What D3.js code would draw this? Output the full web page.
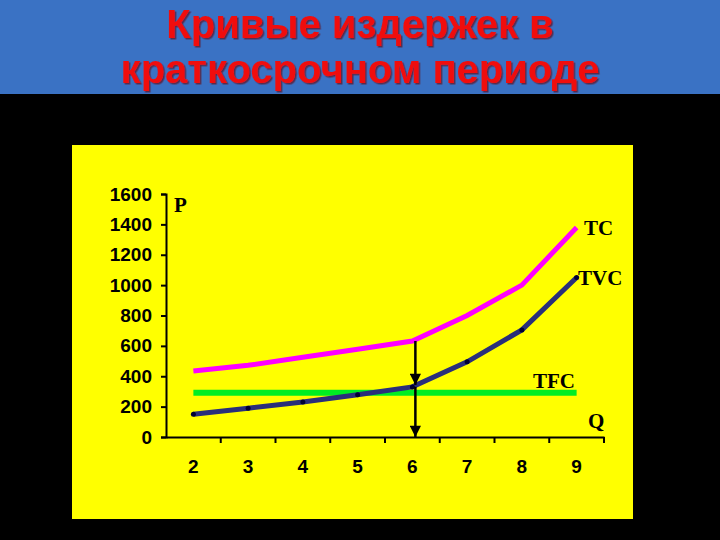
<!DOCTYPE html>
<html>
<head>
<meta charset="utf-8">
<script src="https://cdn.jsdelivr.net/npm/d3@7"></script>
<style>
  body { margin: 0; background: #000; }
  svg { display: block; }
  .tick text { font-family: "Liberation Sans", Arial, sans-serif; font-weight: bold; font-size: 19px; fill: #000; }
  .lbl { font-family: "Liberation Serif", "Times New Roman", serif; font-weight: bold; font-size: 21px; fill: #000; }
</style>
</head>
<body>
<div id="chart"></div>
<script>
// values
var quantities = ["2", "3", "4", "5", "6", "7", "8", "9"],
    tcValues  = [435, 472, 525, 578, 632, 800, 1000, 1380],
    tvcValues = [150, 190, 230, 278, 330, 495, 705, 1050],
    tfcValues = [292, 292, 292, 292, 292, 292, 292, 292],
    yTicks = [0, 200, 400, 600, 800, 1000, 1200, 1400, 1600],
    titleLines = ["Кривые издержек в", "краткосрочном периоде"];

var W = 720, H = 540;

var svg = d3.select("#chart").append("svg")
    .attr("width", W)
    .attr("height", H);

var defs = svg.append("defs");

// soft dark shadow under the title
defs.append("filter")
    .attr("id", "shadow")
    .append("feDropShadow")
    .attr("dx", 1.5).attr("dy", 1.5)
    .attr("stdDeviation", 0.6)
    .attr("flood-color", "#5a2040")
    .attr("flood-opacity", 0.9);

defs.append("marker")
    .attr("id", "arr")
    .attr("viewBox", "0 0 10 10")
    .attr("refX", 10).attr("refY", 5)
    .attr("markerWidth", 5).attr("markerHeight", 4.5)
    .attr("markerUnits", "strokeWidth")
    .attr("orient", "auto")
    .append("path")
    .attr("d", "M0,0 L10,5 L0,10 z")
    .attr("fill", "#000");

svg.append("rect").attr("width", W).attr("height", H).attr("fill", "#000");

// header
svg.append("rect")
    .attr("width", W).attr("height", 94)
    .attr("fill", "#3a72c4");

svg.selectAll(".title")
    .data(titleLines)
    .enter().append("text")
    .attr("class", "title")
    .attr("x", W / 2)
    .attr("y", function(d, i) { return 38 + i * 45; })
    .attr("text-anchor", "middle")
    .attr("filter", "url(#shadow)")
    .style("font-family", "'Liberation Sans', Arial, sans-serif")
    .style("font-weight", "bold")
    .style("font-size", "40px")
    .style("fill", "#f01010")
    .text(function(d) { return d; });

// yellow plot panel
svg.append("rect")
    .attr("x", 72).attr("y", 145)
    .attr("width", 561).attr("height", 374)
    .attr("fill", "#ffff00");

var x = d3.scaleBand().domain(quantities).range([166, 604]);
var y = d3.scaleLinear().domain([0, 1600]).range([437, 194]);

var cx = function(d, i) { return x(quantities[i]) + x.bandwidth() / 2; };

// axes
var yAxis = svg.append("g")
    .attr("transform", "translate(166,0)")
    .call(d3.axisLeft(y).tickValues(yTicks).tickFormat(d3.format("d")).tickSize(5).tickPadding(9));

var xAxis = svg.append("g")
    .attr("transform", "translate(0,437)")
    .call(d3.axisBottom(x).tickSize(0).tickPadding(23));

[yAxis, xAxis].forEach(function(a) {
    a.select(".domain").attr("stroke", "#000").attr("stroke-width", 2);
    a.selectAll(".tick line").attr("stroke", "#000").attr("stroke-width", 2);
});

// tick marks between x categories
svg.selectAll(".xtick")
    .data(quantities)
    .enter().append("line")
    .attr("x1", function(d) { return x(d) + x.bandwidth(); })
    .attr("x2", function(d) { return x(d) + x.bandwidth(); })
    .attr("y1", 437).attr("y2", 443)
    .attr("stroke", "#000").attr("stroke-width", 2);

var line = d3.line()
    .x(cx)
    .y(function(d) { return y(d); });

svg.append("path")
    .datum(tfcValues)
    .attr("d", line)
    .attr("fill", "none")
    .attr("stroke", "#00ee22")
    .attr("stroke-width", 6);

svg.append("path")
    .datum(tvcValues)
    .attr("d", line)
    .attr("fill", "none")
    .attr("stroke", "#2a2f7a")
    .attr("stroke-width", 5);

svg.selectAll(".tvcdot")
    .data(tvcValues)
    .enter().append("circle")
    .attr("cx", cx)
    .attr("cy", function(d) { return y(d); })
    .attr("r", 2.5)
    .attr("fill", "#000033");

svg.append("path")
    .datum(tcValues)
    .attr("d", line)
    .attr("fill", "none")
    .attr("stroke", "#ff00ff")
    .attr("stroke-width", 5);

// arrows at Q = 6
var ax = x("6") + x.bandwidth() / 2 + 3;
svg.append("line")
    .attr("x1", ax).attr("x2", ax)
    .attr("y1", y(tcValues[4])).attr("y2", y(tvcValues[4]) - 2)
    .attr("stroke", "#000").attr("stroke-width", 2.5)
    .attr("marker-end", "url(#arr)");
svg.append("line")
    .attr("x1", ax).attr("x2", ax)
    .attr("y1", y(tvcValues[4])).attr("y2", y(0))
    .attr("stroke", "#000").attr("stroke-width", 2.5)
    .attr("marker-end", "url(#arr)");

// curve labels
var labels = [
    { t: "P",   x: 174, y: 212 },
    { t: "TC",  x: 584, y: 235 },
    { t: "TVC", x: 578, y: 285 },
    { t: "TFC", x: 533, y: 388 },
    { t: "Q",   x: 588, y: 428 }
];
svg.selectAll(".lbl")
    .data(labels)
    .enter().append("text")
    .attr("class", "lbl")
    .attr("x", function(d) { return d.x; })
    .attr("y", function(d) { return d.y; })
    .text(function(d) { return d.t; });
</script>
</body>
</html>
